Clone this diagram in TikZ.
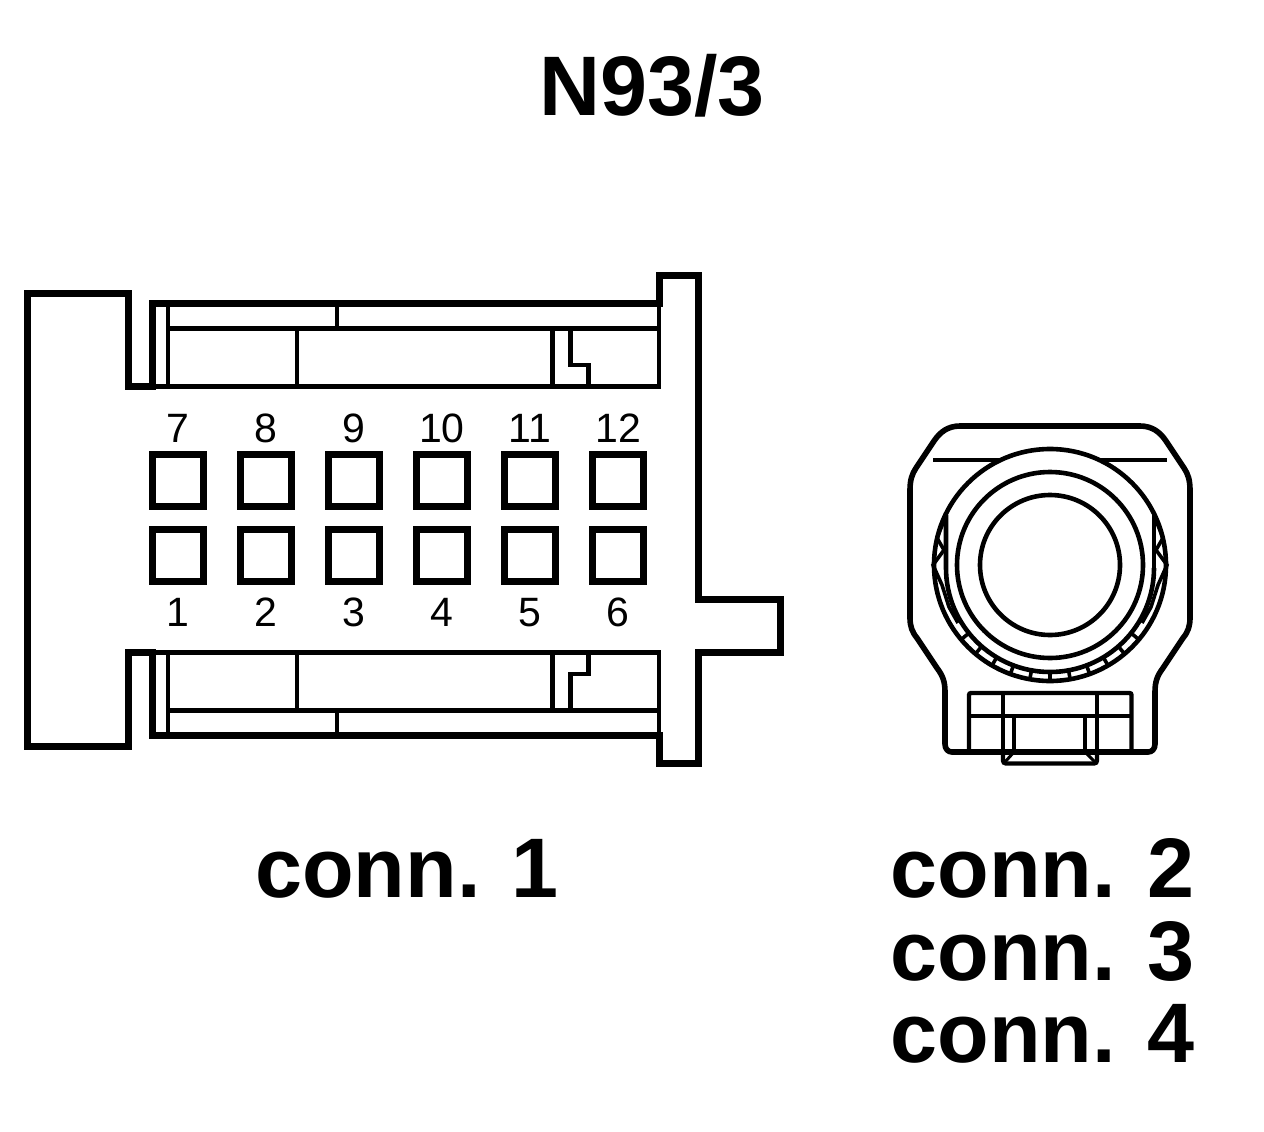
\documentclass[tikz,border=0pt]{standalone}
\usepackage{fontspec}
\setmainfont{Liberation Sans}
\tikzset{
  thickline/.style={line width=7pt,line join=miter},
  thinline/.style={line width=4.6pt},
  pinbox/.style={draw,line width=7pt,minimum width=51.5pt,minimum height=51.5pt,inner sep=0pt,outer sep=0pt},
  pinnum/.style={font=\fontsize{41}{41}\selectfont,inner sep=0pt,anchor=base},
  bigtext/.style={font=\bfseries\fontsize{84.5}{84.5}\selectfont,inner sep=0pt,anchor=base},
  ringline/.style={line width=4.6pt},
  toothline/.style={line width=3.6pt},
  bodyline/.style={line width=5.6pt,line join=round},
  detailline/.style={line width=4.4pt},
}
\begin{document}
\begin{tikzpicture}[x=1pt,y=-1pt]
\useasboundingbox (0,0) rectangle (1264,1132);
% Title
\node[bigtext] (title) at (652,115) {N93/3};
% Connector 1 outline
\draw[thickline] (27.5,293) -- (128,293) -- (128,386.5) -- (152.5,386.5) -- (152.5,303.5) -- (659,303.5)
  -- (659,275.5) -- (698,275.5) -- (698,599.5) -- (780,599.5) -- (780,652.5) -- (698,652.5) -- (698,763.5)
  -- (659,763.5) -- (659,735.5) -- (152.5,735.5) -- (152.5,652.5) -- (128,652.5) -- (128,746) -- (27.5,746) -- cycle;
% Upper detail
\draw[thinline] (152,386.5) -- (659,386.5) -- (659,303.5);
\draw[thinline] (168,303.5) -- (168,386.5);
\draw[thinline] (168,328.5) -- (659,328.5);
\draw[thinline] (337,303.5) -- (337,328.5);
\draw[thinline] (297,328.5) -- (297,386.5);
\draw[thinline] (552.5,328.5) -- (552.5,386.5);
\draw[thinline] (570.5,328.5) -- (570.5,365) -- (588.5,365) -- (588.5,386.5);
% Lower detail
\draw[thinline] (152,652.5) -- (659,652.5) -- (659,735.5);
\draw[thinline] (168,652.5) -- (168,735.5);
\draw[thinline] (168,710.5) -- (659,710.5);
\draw[thinline] (337,710.5) -- (337,735.5);
\draw[thinline] (297,652.5) -- (297,710.5);
\draw[thinline] (552.5,652.5) -- (552.5,710.5);
\draw[thinline] (588.5,652.5) -- (588.5,674) -- (570.5,674) -- (570.5,710.5);
% Pins
\foreach \n/\x in {7/178,8/266,9/354,10/442,11/530,12/618}{
  \node[pinbox] (p\n) at (\x,480.5) {};
  \node[pinnum] (l\n) at (\x,442.5) {\n};
}
\foreach \n/\x in {1/178,2/266,3/354,4/442,5/530,6/618}{
  \node[pinbox] (p\n) at (\x,555.5) {};
  \node[pinnum] (l\n) at (\x,626) {\n};
}
% Connector 2 body
\draw[bodyline] (960,426) -- (1140,426) .. controls (1152,426) and (1160,432) .. (1166,441)
  -- (1184,468) .. controls (1188,474) and (1190,480) .. (1190,490) -- (1190,618)
  .. controls (1190,626) and (1188,632) .. (1183,638) -- (1163,668) .. controls (1157,676) and (1155,682) .. (1155,692)
  -- (1155,744) .. controls (1155,749) and (1152,752) .. (1148,752) -- (952,752)
  .. controls (948,752) and (945,749) .. (945,744) -- (945,692) .. controls (945,682) and (943,676) .. (937,668)
  -- (917,638) .. controls (912,632) and (910,626) .. (910,618) -- (910,490)
  .. controls (910,480) and (912,474) .. (916,468) -- (934,441) .. controls (940,432) and (948,426) .. (960,426) -- cycle;
% Top bar
\draw[ringline] (933,460) -- (1000,460);
\draw[ringline] (1100,460) -- (1167,460);
% Rings
\draw[ringline] (1050,565) circle (116);
\draw[ringline] (1050,565) circle (93);
\draw[ringline] (1050,565) circle (70);
\draw[ringline] (946,515) -- (946,568) arc[start angle=180,end angle=0,radius=104];
\draw[ringline] (1154,568) -- (1154,515);
% Teeth at the bottom of the ring
\foreach \a in {40,50,...,140}{
  \draw[toothline] (1050,565) ++(\a:105) -- ++(\a:11);
}
% Zigzag teeth on the sides
\draw[toothline] (943,523) -- (937,538) -- (944,550) -- (933,565) -- (942,585) -- (949,607) -- (958,623);
\draw[toothline] (1157,523) -- (1163,538) -- (1156,550) -- (1167,565) -- (1158,585) -- (1151,607) -- (1142,623);
% Latch block
\draw[detailline,rounded corners=2pt] (969,752) -- (969,693) -- (1131.5,693) -- (1131.5,752);
\draw[detailline] (969,716) -- (1131.5,716);
\draw[detailline] (1003,693) -- (1003,752);
\draw[detailline] (1097,693) -- (1097,752);
\draw[detailline] (1014,716) -- (1014,752);
\draw[detailline] (1085,716) -- (1085,752);
\draw[detailline,rounded corners=3pt] (1003,752) -- (1003,763.5) -- (1097,763.5) -- (1097,752);
\draw[line width=3pt] (1014,752) -- (1005,762);
\draw[line width=3pt] (1085,752) -- (1095,762);
% Captions
\node[bigtext] (c1) at (407,897) {conn. 1};
\node[bigtext] (c2) at (1042.5,897) {conn. 2};
\node[bigtext] (c3) at (1042.5,980) {conn. 3};
\node[bigtext] (c4) at (1042.5,1062) {conn. 4};
\end{tikzpicture}
\end{document}
